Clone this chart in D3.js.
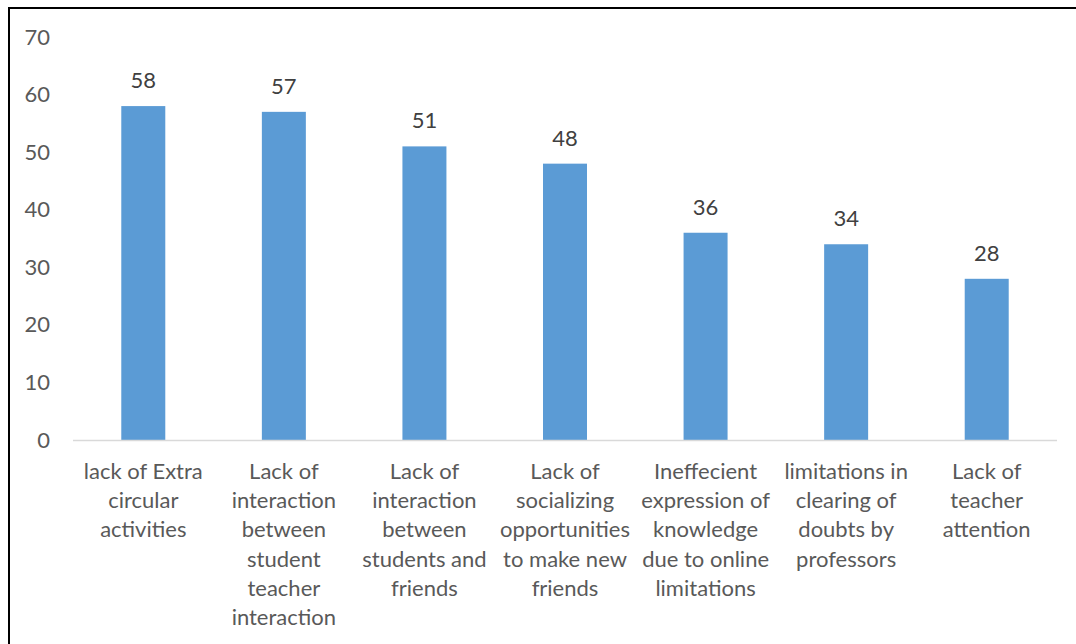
<!DOCTYPE html>
<html>
<head>
<meta charset="utf-8">
<script src="https://cdn.jsdelivr.net/npm/d3@7"></script>
<style>
  html, body { margin: 0; padding: 0; background: #fff; }
  svg { display: block; font-family: Lato, "Open Sans", sans-serif; }
</style>
</head>
<body>
<svg id="chart" width="1076" height="644"></svg>
<script>
// Categories, wrapped into lines as they appear under each bar
const categories = [
  ["lack of Extra", "circular", "activities"],
  ["Lack of", "interaction", "between", "student", "teacher", "interaction"],
  ["Lack of", "interaction", "between", "students and", "friends"],
  ["Lack of", "socializing", "opportunities", "to make new", "friends"],
  ["Ineffecient", "expression of", "knowledge", "due to online", "limitations"],
  ["limitations in", "clearing of", "doubts by", "professors"],
  ["Lack of", "teacher", "attention"]
];
const values = [58, 57, 51, 48, 36, 34, 28];
const yTicks = [0, 10, 20, 30, 40, 50, 60, 70];

const svg = d3.select("#chart");
const plot = { left: 73, right: 1057, top: 37, bottom: 440 };
const fontSize = 22;

// Outer frame (runs past the right and bottom edges of the view)
svg.append("rect")
  .attr("x", 9).attr("y", 8)
  .attr("width", 1100).attr("height", 700)
  .attr("fill", "none").attr("stroke", "#000").attr("stroke-width", 2);

const ids = categories.map((c, i) => i);
const x = d3.scaleBand()
  .domain(ids)
  .range([plot.left, plot.right])
  .paddingInner(0.687)
  .paddingOuter(0.3435);

const y = d3.scaleLinear()
  .domain([0, 70])
  .range([plot.bottom, plot.top]);

// Y axis labels (no axis line, no ticks)
const yAxis = svg.append("g")
  .attr("transform", `translate(${plot.left - 23},0)`)
  .call(d3.axisLeft(y).tickValues(yTicks).tickSize(0).tickPadding(0).tickFormat(d3.format("d")));
yAxis.select(".domain").remove();
yAxis.selectAll("text")
  .attr("font-size", fontSize).attr("fill", "#595959")
  .attr("font-family", "Lato, 'Open Sans', sans-serif");

// Bars
svg.append("g").selectAll("rect")
  .data(values)
  .join("rect")
  .attr("x", (d, i) => x(i))
  .attr("width", x.bandwidth())
  .attr("y", d => y(d))
  .attr("height", d => y(0) - y(d))
  .attr("fill", "#5b9bd5");

// Baseline
svg.append("line")
  .attr("x1", plot.left).attr("x2", plot.right)
  .attr("y1", y(0) + 0.5).attr("y2", y(0) + 0.5)
  .attr("stroke", "#d9d9d9").attr("stroke-width", 1.5);

// Value labels
svg.append("g").selectAll("text")
  .data(values)
  .join("text")
  .attr("x", (d, i) => x(i) + x.bandwidth() / 2)
  .attr("y", d => y(d) - 18)
  .attr("text-anchor", "middle")
  .attr("font-size", fontSize)
  .attr("fill", "#404040")
  .text(d => d);

// Category labels
const lineH = 29.2;
const cat = svg.append("g").selectAll("text")
  .data(categories)
  .join("text")
  .attr("text-anchor", "middle")
  .attr("font-size", fontSize)
  .attr("fill", "#595959")
  .attr("transform", (d, i) => `translate(${x(i) + x.bandwidth() / 2},${plot.bottom + 39})`);
cat.selectAll("tspan")
  .data(d => d)
  .join("tspan")
  .attr("x", 0)
  .attr("y", (d, j) => j * lineH)
  .text(d => d);
</script>
</body>
</html>
